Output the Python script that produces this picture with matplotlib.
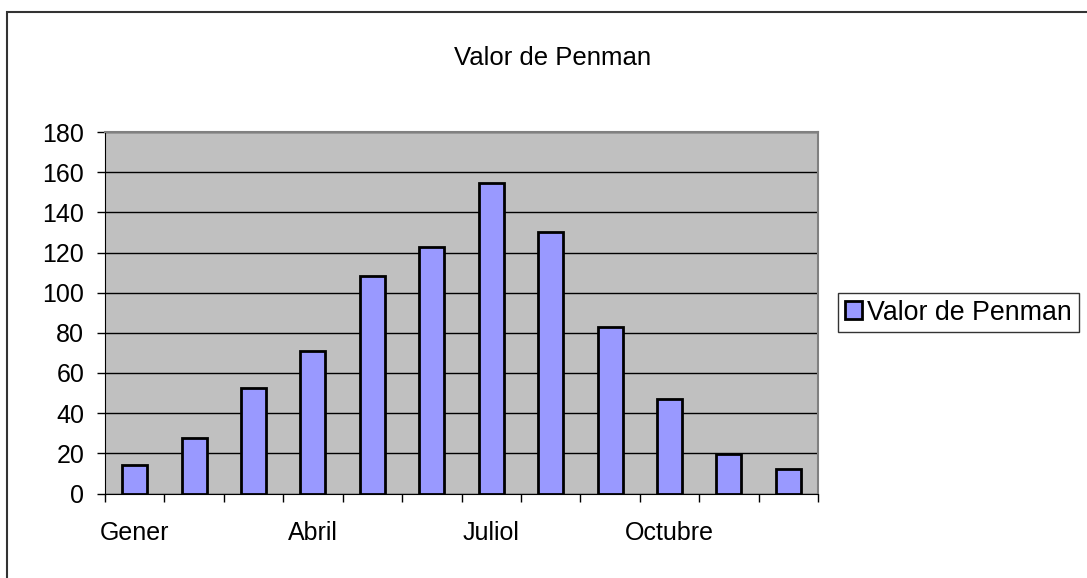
import matplotlib
matplotlib.use("Agg")
import matplotlib.pyplot as plt
from matplotlib.patches import Rectangle
import numpy as np

plt.rcParams["font.family"] = ["Liberation Sans", "DejaVu Sans"]

months = ["Gener", "Febrer", "Març", "Abril", "Maig", "Juny",
          "Juliol", "Agost", "Setembre", "Octubre", "Novembre", "Desembre"]
penman = [14.2, 27.5, 52.7, 71.0, 108.5, 122.9, 154.8, 130.1, 83.1, 46.9, 19.7, 12.1]
shown_labels = ["Gener", "Abril", "Juliol", "Octubre"]
yticks = list(range(0, 181, 20))

W, H = 1087, 578
fig = plt.figure(figsize=(W / 100, H / 100), dpi=100)
ax = fig.add_axes([105 / W, 1 - 493.5 / H, (818 - 105) / W, (493.5 - 132) / H])

x = np.arange(len(months))
ax.set_facecolor("#C0C0C0")
ax.set_axisbelow(True)
ax.yaxis.grid(True, color="black", lw=1)
ax.bar(x, penman, width=0.42, color="#9999FF", edgecolor="black", lw=2,
       label="Valor de Penman", zorder=3)

ax.set_xlim(-0.5, len(months) - 0.5)
ax.set_ylim(0, 180)
ax.set_yticks(yticks)
ax.tick_params(axis="y", length=6, width=1, labelsize=18, pad=9)

# labels only every third month, tick marks between categories
idx = [months.index(m) for m in shown_labels]
ax.set_xticks(idx)
ax.set_xticklabels(shown_labels)
ax.set_xticks(np.arange(-0.5, len(months)), minor=True)
ax.tick_params(axis="x", which="major", length=0, labelsize=18, pad=20)
ax.tick_params(axis="x", which="minor", length=6, width=1)

ax.spines["left"].set_color("black")
ax.spines["bottom"].set_color("black")
for s in ("top", "right"):
    ax.spines[s].set_color("#808080")
    ax.spines[s].set_linewidth(1.5)

fig.text(553 / W, 1 - 58 / H, "Valor de Penman", ha="center", va="center", fontsize=18.5)

leg = fig.legend(loc="center left", bbox_to_anchor=(838 / W, 1 - 312.5 / H),
                 fontsize=19.3, frameon=True, fancybox=False, handlelength=0.65,
                 handleheight=0.65, handletextpad=0.2, borderpad=0.25,
                 borderaxespad=0)
leg.get_frame().set_edgecolor("black")
leg.get_frame().set_linewidth(1)

# outer chart border (runs off the right and bottom edges)
fig.patches.append(Rectangle((7 / W, -0.2), 2, 1.2 - 12 / H, transform=fig.transFigure,
                             fill=False, edgecolor="#333333", lw=1.5))

fig.savefig("out.png", dpi=100)
